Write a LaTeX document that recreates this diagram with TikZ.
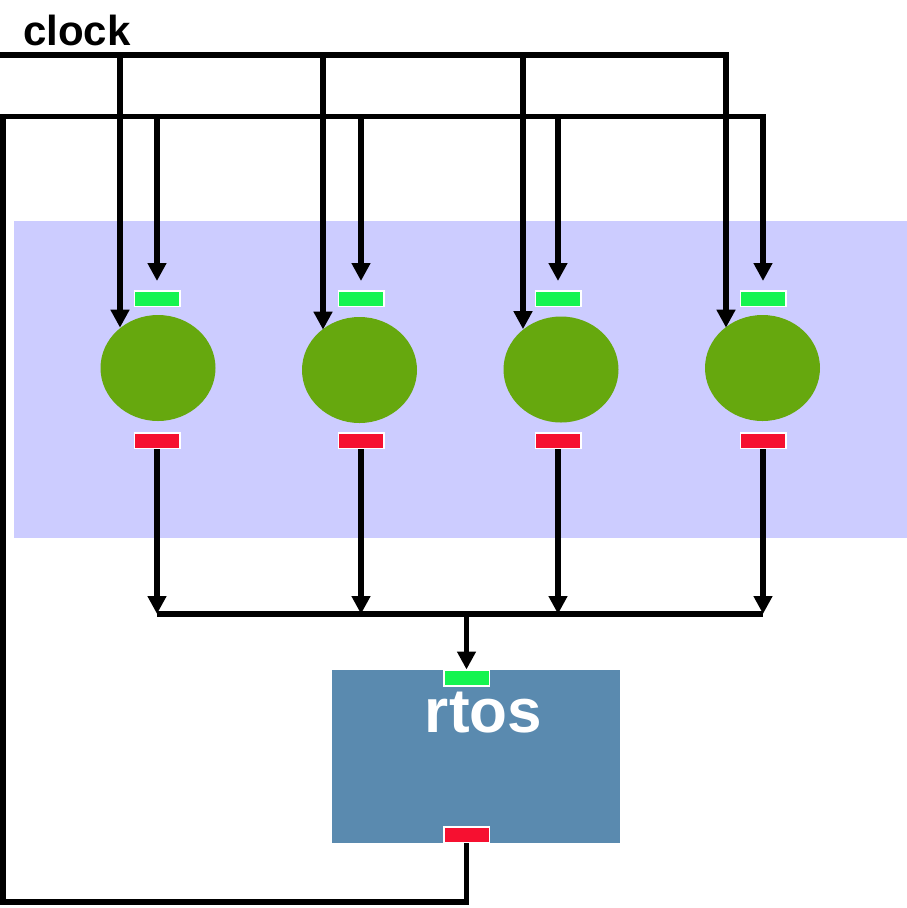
\documentclass[tikz,border=0pt]{standalone}
\usepackage{fontspec}
\setmainfont{Liberation Sans}
\usetikzlibrary{arrows.meta,shapes.geometric,calc}
\definecolor{bandc}{RGB}{204,204,255}
\definecolor{ballc}{RGB}{102,168,14}
\definecolor{portg}{RGB}{20,244,80}
\definecolor{portr}{RGB}{246,16,48}
\definecolor{boxblue}{RGB}{90,138,175}
\begin{document}
\begin{tikzpicture}[x=1pt,y=-1pt,
  wire/.style={line width=5.5pt, draw=black},
  arr/.style={wire, -{Triangle[width=18pt,length=18pt]}},
  ball/.style={ellipse, fill=ballc, minimum width=115pt, minimum height=106pt, inner sep=0pt},
  gport/.style={rectangle, fill=portg, draw=white, line width=1.5pt, minimum width=45.5pt, minimum height=15.5pt, inner sep=0pt},
  rport/.style={gport, fill=portr},
  rtosbox/.style={rectangle, fill=boxblue, minimum width=288pt, minimum height=173pt, inner sep=0pt},
  bigtext/.style={font=\fontsize{42}{42}\selectfont\bfseries, inner sep=0pt},
  boxtext/.style={font=\fontsize{62}{62}\selectfont\bfseries, text=white, inner sep=0pt}
]
\useasboundingbox (0,0) rectangle (907,908);
\fill[bandc] (14,221) rectangle (907,538);

% balls and ports
\node[ball] (c1) at (158,368) {};
\node[ball] (c2) at (359.5,370) {};
\node[ball] (c3) at (561,369.5) {};
\node[ball] (c4) at (762.5,368) {};
\node[gport] (g1) at (157,298.5) {};
\node[gport] (g2) at (361,298.5) {};
\node[gport] (g3) at (558,298.5) {};
\node[gport] (g4) at (763,298.5) {};
\node[rport] (r1) at (157,440.5) {};
\node[rport] (r2) at (361,440.5) {};
\node[rport] (r3) at (558,440.5) {};
\node[rport] (r4) at (763,440.5) {};

% rtos
\node[rtosbox] (rtos) at (476,756.5) {};
\node[gport] (rg) at (466.5,678) {};
\node[rport] (rr) at (466.5,834.5) {};
\node[boxtext, anchor=base] (rtoslabel) at (483.5,732) {rtos};

% clock label
\node[bigtext, anchor=base west] (clk) at (23,45) {clock};

% coordinates
\coordinate (ck0) at (0,55);
\coordinate (k1) at (120,55);
\coordinate (k2) at (323,55);
\coordinate (k3) at (523,55);
\coordinate (k4) at (726,55);
\coordinate (fbtop) at (2.75,116.5);
\coordinate (fbbot) at (2.75,902);
\coordinate (bus) at (0,614);

% clock lines
\draw[arr] (ck0) -- (k4) -- (k4 |- c4.133);
\draw[arr] (k1) -- (k1 |- c1.133);
\draw[arr] (k2) -- (k2 |- c2.133);
\draw[arr] (k3) -- (k3 |- c3.133);

% feedback from rtos
\draw[arr, shorten >=9pt] (rr.south) -- (rr.south |- fbbot) -- (fbbot) -- (fbtop) -- (fbtop -| g4.north) -- (g4.north);
\draw[arr, shorten >=9pt] (fbtop -| g1.north) -- (g1.north);
\draw[arr, shorten >=9pt] (fbtop -| g2.north) -- (g2.north);
\draw[arr, shorten >=9pt] (fbtop -| g3.north) -- (g3.north);

% outputs to bus
\draw[arr] (r1.south) -- (r1.south |- bus);
\draw[arr] (r2.south) -- (r2.south |- bus);
\draw[arr] (r3.south) -- (r3.south |- bus);
\draw[arr] (r4.south) -- (r4.south |- bus);
\draw[wire] (r1.south |- bus) -- (r4.south |- bus);
\draw[arr] (rg.north |- bus) -- (rg.north);
\end{tikzpicture}
\end{document}
